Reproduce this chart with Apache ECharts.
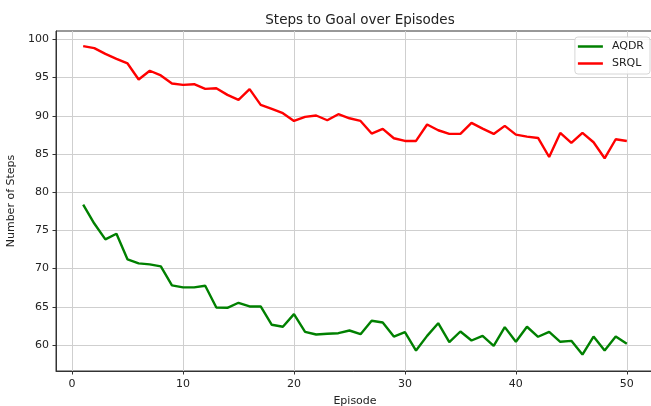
<!DOCTYPE html>
<html>
<head>
<meta charset="utf-8">
<script src="https://cdn.jsdelivr.net/npm/echarts@6/dist/echarts.min.js"></script>
<style>
  html, body { margin: 0; padding: 0; background: #fff; }
  #chart { width: 651px; height: 406px; }
</style>
</head>
<body>
<div id="chart"></div>
<script>
// Episode numbers
const episodes = [1, 2, 3, 4, 5, 6, 7, 8, 9, 10,
  11, 12, 13, 14, 15, 16, 17, 18, 19, 20,
  21, 22, 23, 24, 25, 26, 27, 28, 29, 30,
  31, 32, 33, 34, 35, 36, 37, 38, 39, 40,
  41, 42, 43, 44, 45, 46, 47, 48, 49, 50];

// Average steps to reach the goal, per episode
const aqdrSteps = [78.37, 75.9, 73.83, 74.57, 71.2, 70.68, 70.55, 70.29, 67.8, 67.54,
  67.54, 67.75, 64.92, 64.87, 65.53, 65.05, 65.05, 62.65, 62.39, 64.04,
  61.73, 61.38, 61.47, 61.55, 61.9, 61.42, 63.17, 62.95, 61.11, 61.68,
  59.28, 61.2, 62.86, 60.37, 61.77, 60.59, 61.2, 59.9, 62.34, 60.42,
  62.39, 61.08, 61.73, 60.42, 60.55, 58.75, 61.11, 59.28, 61.11, 60.16];

const srqlSteps = [99.12, 98.86, 98.1, 97.46, 96.85, 94.76, 95.9, 95.28, 94.23, 94.05,
  94.14, 93.53, 93.6, 92.74, 92.08, 93.49, 91.43, 90.9, 90.34, 89.33,
  89.86, 90.04, 89.42, 90.21, 89.68, 89.33, 87.68, 88.28, 87.06, 86.71,
  86.71, 88.86, 88.11, 87.63, 87.63, 89.07, 88.33, 87.63, 88.68, 87.54,
  87.28, 87.1, 84.61, 87.76, 86.45, 87.76, 86.54, 84.44, 86.93, 86.71];

// Tick positions
const xTicks = [0, 10, 20, 30, 40, 50];
const yTicks = [60, 65, 70, 75, 80, 85, 90, 95, 100];

const FONT = 'DejaVu Sans';
const TEXT = '#222';

const pairs = (xs, ys) => xs.map((x, i) => [x, ys[i]]);

const chart = echarts.init(document.getElementById('chart'), null, { renderer: 'canvas' });

chart.setOption({
  animation: false,
  backgroundColor: '#fff',
  title: {
    text: 'Steps to Goal over Episodes',
    left: 355,
    textAlign: 'center',
    top: 8,
    textStyle: { fontFamily: FONT, fontSize: 13.5, fontWeight: 'normal', color: TEXT }
  },
  legend: {
    orient: 'vertical',
    right: 1,
    top: 37,
    padding: [4, 6, 5, 3],
    itemGap: 6,
    itemWidth: 25,
    itemHeight: 2.5,
    icon: 'rect',
    backgroundColor: 'rgba(255,255,255,0.85)',
    borderColor: '#d6d6d6',
    borderWidth: 1,
    borderRadius: 3,
    textStyle: { fontFamily: FONT, fontSize: 11, color: TEXT, padding: [0, 0, 0, 4] },
    data: ['AQDR', 'SRQL']
  },
  grid: {
    left: 56,
    top: 31,
    right: -3,
    bottom: 35,
    show: true,
    borderColor: '#333',
    borderWidth: 1,
    outerBoundsMode: 'none'
  },
  xAxis: {
    type: 'value',
    min: -1.45,
    max: 52.45,
    name: 'Episode',
    nameLocation: 'middle',
    nameGap: 25,
    nameTextStyle: { fontFamily: FONT, fontSize: 11, color: TEXT },
    axisLine: { show: true, onZero: false, lineStyle: { color: '#333', width: 1 } },
    axisTick: { show: true, length: 3.5, customValues: xTicks, lineStyle: { color: '#333' } },
    axisLabel: { customValues: xTicks, margin: 8, fontFamily: FONT, fontSize: 11, color: TEXT },
    splitLine: { show: true, lineStyle: { color: '#cfcfcf', width: 1 } }
  },
  yAxis: {
    type: 'value',
    min: 56.6,
    max: 101.1,
    name: 'Number of Steps',
    nameLocation: 'middle',
    nameGap: 33,
    nameTextStyle: { fontFamily: FONT, fontSize: 11, color: TEXT },
    axisLine: { show: true, onZero: false, lineStyle: { color: '#333', width: 1 } },
    axisTick: { show: true, length: 3.5, customValues: yTicks, lineStyle: { color: '#333' } },
    axisLabel: { customValues: yTicks, margin: 7, fontFamily: FONT, fontSize: 11, color: TEXT },
    splitLine: { show: true, lineStyle: { color: '#cfcfcf', width: 1 } }
  },
  series: [
    {
      name: 'AQDR',
      type: 'line',
      data: pairs(episodes, aqdrSteps),
      showSymbol: false,
      symbol: 'none',
      color: '#008000',
      lineStyle: { color: '#008000', width: 2.4 }
    },
    {
      name: 'SRQL',
      type: 'line',
      data: pairs(episodes, srqlSteps),
      showSymbol: false,
      symbol: 'none',
      color: '#ff0000',
      lineStyle: { color: '#ff0000', width: 2.4 }
    }
  ]
});
</script>
</body>
</html>
